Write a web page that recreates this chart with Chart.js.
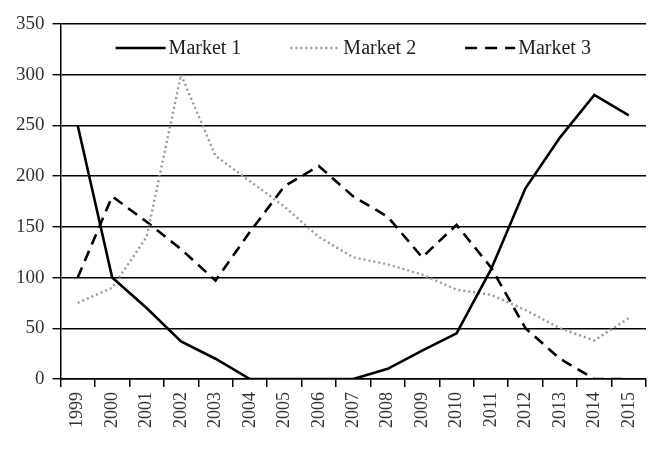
<!DOCTYPE html>
<html>
<head>
<meta charset="utf-8">
<script src="https://cdn.jsdelivr.net/npm/chart.js@4.4.0/dist/chart.umd.min.js"></script>
<style>
  html, body { margin: 0; padding: 0; background: #fff; }
  #wrap { width: 670px; height: 462px; }
</style>
</head>
<body>
<div id="wrap"><canvas id="chart"></canvas></div>
<script>
var years = ["1999","2000","2001","2002","2003","2004","2005","2006","2007","2008","2009","2010","2011","2012","2013","2014","2015"];
var market1 = [250, 100, 70, 37, 20, 0, 0, 0, 0, 10, 28, 45, 108, 188, 238, 280, 260];
var market2 = [75, 90, 140, 300, 220, 195, 170, 140, 120, 113, 103, 88, 83, 68, 50, 38, 60];
var market3 = [100, 180, 155, 128, 97, 145, 190, 210, 180, 160, 120, 152, 110, 50, 20, 0, 0];
var yTicks = [0, 50, 100, 150, 200, 250, 300, 350];

var FONT = "'Liberation Serif', 'Times New Roman', serif";

function lineSet(label, data, color, dash, width){
  return {
    label: label,
    data: data,
    borderColor: color,
    backgroundColor: color,
    borderWidth: width,
    borderDash: dash,
    pointRadius: 0,
    tension: 0,
    fill: false
  };
}

// legend drawn inside the plot area, in one row, like the original
var innerLegend = {
  id: 'innerLegend',
  afterDatasetsDraw: function(chart){
    var ctx = chart.ctx, area = chart.chartArea;
    var sample = 50, gap = 3, spacing = 49;
    ctx.save();
    ctx.font = "20px " + FONT;
    ctx.textBaseline = 'middle';
    var items = chart.data.datasets.map(function(ds){
      return { ds: ds, w: sample + gap + ctx.measureText(ds.label).width };
    });
    var total = items.reduce(function(s, it){ return s + it.w; }, 0) + spacing*(items.length-1);
    var x = (area.left + area.right)/2 - total/2;
    var y = area.top + 24;
    items.forEach(function(it){
      ctx.strokeStyle = it.ds.borderColor;
      ctx.lineWidth = it.ds.borderWidth;
      ctx.setLineDash(it.ds.label === "Market 3" ? [12, 8] : it.ds.borderDash);
      ctx.beginPath();
      ctx.moveTo(x, y);
      ctx.lineTo(x + sample, y);
      ctx.stroke();
      ctx.setLineDash([]);
      ctx.fillStyle = '#222';
      ctx.fillText(it.ds.label, x + sample + gap, y + 1);
      x += it.w + spacing;
    });
    ctx.restore();
  }
};

var ctx = document.getElementById("chart").getContext("2d");
var chart = new Chart(ctx, {
  type: 'line',
  data: {
    labels: years,
    datasets: [
      lineSet("Market 1", market1, "#000", [], 2.6),
      lineSet("Market 2", market2, "#999", [2, 3], 2.4),
      lineSet("Market 3", market3, "#000", [11, 7], 2.6)
    ]
  },
  options: {
    responsive: true,
    maintainAspectRatio: false,
    animation: false,
    layout: { padding: { left: 8, right: 24, top: 24, bottom: 29 } },
    plugins: {
      tooltip: { enabled: false },
      legend: { display: false }
    },
    scales: {
      x: {
        offset: true,
        grid: {
          offset: true,
          drawOnChartArea: false,
          drawTicks: true,
          tickLength: 8,
          color: '#000',
          lineWidth: 1.5
        },
        border: { display: true, color: '#000', width: 1.5 },
        ticks: {
          autoSkip: false,
          minRotation: 90,
          maxRotation: 90,
          color: '#333',
          padding: 5,
          font: { family: FONT, size: 18 }
        }
      },
      y: {
        min: 0,
        max: 350,
        afterBuildTicks: function(scale){
          scale.ticks = yTicks.map(function(v){ return { value: v }; });
        },
        grid: {
          color: '#000',
          lineWidth: 1.4,
          tickLength: 8
        },
        border: { display: true, color: '#000', width: 1.5 },
        ticks: {
          color: '#333',
          padding: 8,
          font: { family: FONT, size: 19 }
        }
      }
    }
  },
  plugins: [innerLegend]
});
</script>
</body>
</html>
